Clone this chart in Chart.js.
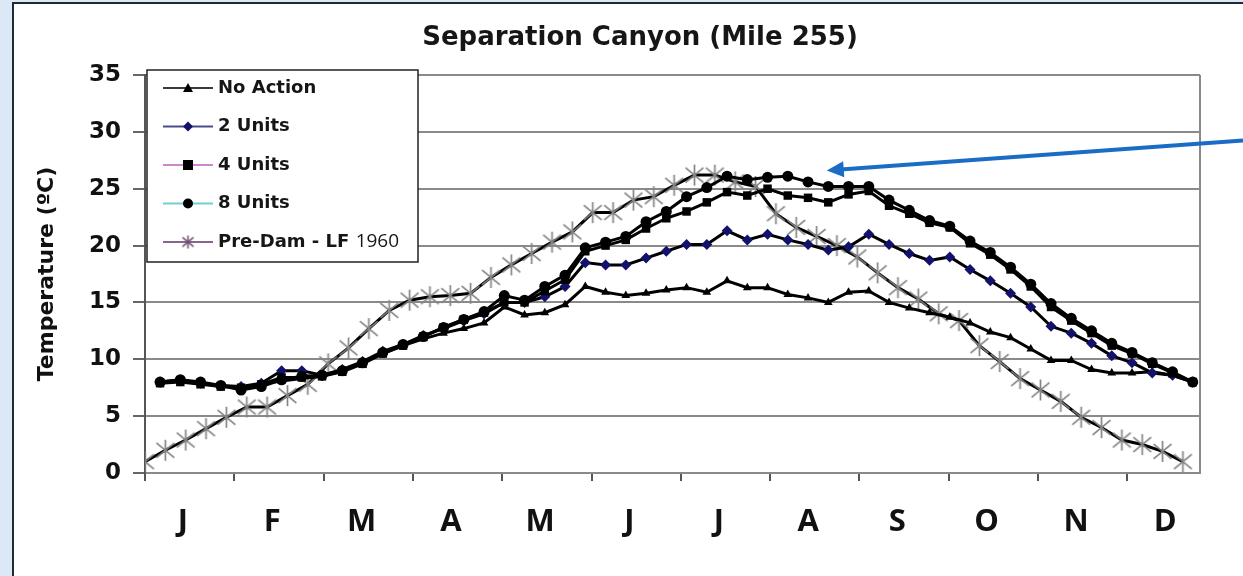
<!DOCTYPE html>
<html>
<head>
<meta charset="utf-8">
<title>Separation Canyon (Mile 255)</title>
<script src="https://cdn.jsdelivr.net/npm/chart.js@4.4.1/dist/chart.umd.min.js"></script>
<style>
  html, body { margin: 0; padding: 0; }
  body { width: 1243px; height: 576px; background: #dbe9f6; position: relative; overflow: hidden; }
  #panel { position: absolute; left: 12px; top: 2px; right: 0; bottom: 0; background: #fff;
           border-left: 2px solid #1e2a36; border-top: 2px solid #1e2a36; }
  #wrap { position: absolute; left: 0; top: 0; width: 1243px; height: 576px; }
</style>
</head>
<body>
<div id="panel"></div>
<div id="wrap"><canvas id="chart" width="1243" height="576"></canvas></div>
<script>
// month labels on the x axis (weekly data, 52 weeks)
const monthLabels = ['J', 'F', 'M', 'A', 'M', 'J', 'J', 'A', 'S', 'O', 'N', 'D'];
const WEEKS_PER_MONTH = 4.388;

// weekly temperatures (deg C)
const noAction = [8.0, 8.2, 7.9, 7.7, 7.5, 7.8, 8.1, 8.3, 8.5, 9.0,
  9.8, 10.5, 11.2, 11.8, 12.3, 12.7, 13.2, 14.6, 13.9, 14.1,
  14.8, 16.4, 15.9, 15.6, 15.8, 16.1, 16.3, 15.9, 16.9, 16.3,
  16.3, 15.7, 15.4, 15.0, 15.9, 16.0, 15.0, 14.5, 14.1, 13.7,
  13.2, 12.4, 11.9, 10.9, 9.9, 9.9, 9.1, 8.8, 8.8, 8.9, 8.6, 8.0];

const twoUnits = [8.0, 8.1, 7.9, 7.7, 7.6, 7.9, 9.0, 9.0, 8.6, 9.1,
  9.8, 10.7, 11.3, 12.1, 12.7, 13.4, 14.0, 15.0, 15.0, 15.5,
  16.4, 18.5, 18.3, 18.3, 18.9, 19.5, 20.1, 20.1, 21.3, 20.5,
  21.0, 20.5, 20.1, 19.6, 19.9, 21.0, 20.1, 19.3, 18.7, 19.0,
  17.9, 16.9, 15.8, 14.6, 12.9, 12.3, 11.4, 10.3, 9.7, 8.8, 8.6, 8.0];

const fourUnits = [7.9, 8.0, 7.8, 7.6, 7.5, 7.8, 8.4, 8.4, 8.5, 8.9,
  9.6, 10.5, 11.2, 12.0, 12.8, 13.5, 14.1, 15.0, 15.0, 16.0,
  17.0, 19.5, 20.0, 20.5, 21.5, 22.4, 23.0, 23.8, 24.7, 24.4,
  25.0, 24.4, 24.2, 23.8, 24.5, 24.8, 23.5, 22.8, 22.0, 21.6,
  20.2, 19.2, 17.9, 16.4, 14.6, 13.4, 12.3, 11.2, 10.5, 9.6, 8.8, 8.0];

const eightUnits = [8.0, 8.2, 8.0, 7.7, 7.3, 7.6, 8.2, 8.5, 8.6, 9.0,
  9.7, 10.6, 11.3, 12.0, 12.8, 13.5, 14.2, 15.6, 15.2, 16.4,
  17.4, 19.8, 20.3, 20.8, 22.1, 23.0, 24.3, 25.1, 26.1, 25.8,
  26.0, 26.1, 25.6, 25.2, 25.2, 25.2, 24.0, 23.1, 22.2, 21.7,
  20.4, 19.4, 18.1, 16.6, 14.9, 13.6, 12.5, 11.4, 10.6, 9.7, 8.9, 8.0];

const preDam1960 = [1.0, 2.0, 2.9, 3.9, 4.9, 5.8, 5.8, 6.8, 7.8, 9.6,
  11.0, 12.7, 14.3, 15.2, 15.5, 15.6, 15.8, 17.2, 18.3, 19.3,
  20.3, 21.2, 22.9, 22.9, 24.0, 24.3, 25.3, 26.2, 26.2, 25.6,
  25.2, 22.8, 21.6, 20.8, 20.0, 19.0, 17.6, 16.3, 15.3, 14.0,
  13.4, 11.2, 9.8, 8.3, 7.3, 6.3, 4.9, 4.0, 2.9, 2.5, 1.9, 1.0];

// x positions in weeks (model runs sit slightly later in each week)
const preDamWeeks = preDam1960.map((_, i) => i);
const modelWeeks = noAction.map((_, i) => 0.74 + i * 0.995);
const monthStarts = monthLabels.map((_, k) => k * WEEKS_PER_MONTH);

const toPoints = (xs, ys) => ys.map((y, i) => ({ x: xs[i], y: y }));

function makeStar(size, color, lw) {
  const c = document.createElement('canvas');
  c.width = size; c.height = size;
  const g = c.getContext('2d');
  const m = size / 2, r = size / 2 - 1;
  g.strokeStyle = color;
  g.lineWidth = lw;
  g.beginPath();
  g.moveTo(m - r * 0.85, m - r * 0.7); g.lineTo(m + r * 0.85, m + r * 0.7);
  g.moveTo(m + r * 0.85, m - r * 0.7); g.lineTo(m - r * 0.85, m + r * 0.7);
  g.moveTo(m, m - r); g.lineTo(m, m + r);
  g.stroke();
  return c;
}
const starBig = makeStar(23, '#858585', 1.7);
const starSmall = makeStar(15, '#6e4f6e', 1.5);

const legendItems = [
  { text: 'No Action', line: '#3a3a3a', marker: 'triangle', fill: '#000' },
  { text: '2 Units', line: '#4a4a8c', marker: 'diamond', fill: '#12126a' },
  { text: '4 Units', line: '#cc88cc', marker: 'square', fill: '#000' },
  { text: '8 Units', line: '#6fd0d0', marker: 'circle', fill: '#000' },
  { text: 'Pre-Dam - LF ', extra: '1960', line: '#8a648a', marker: 'star', fill: '#6e4f6e' }
];

function drawMarker(ctx, kind, x, y, fill) {
  ctx.save();
  ctx.fillStyle = fill;
  ctx.beginPath();
  if (kind === 'triangle') {
    ctx.moveTo(x, y - 5); ctx.lineTo(x + 5, y + 4); ctx.lineTo(x - 5, y + 4); ctx.closePath(); ctx.fill();
  } else if (kind === 'diamond') {
    ctx.moveTo(x, y - 5); ctx.lineTo(x + 5, y); ctx.lineTo(x, y + 5); ctx.lineTo(x - 5, y); ctx.closePath(); ctx.fill();
  } else if (kind === 'square') {
    ctx.fillRect(x - 5, y - 5, 10, 10);
  } else if (kind === 'circle') {
    ctx.arc(x, y, 5, 0, Math.PI * 2); ctx.fill();
  } else if (kind === 'star') {
    ctx.drawImage(starSmall, x - starSmall.width / 2, y - starSmall.height / 2);
  }
  ctx.restore();
}

const decorPlugin = {
  id: 'decor',
  beforeDatasetsDraw(chart) {
    const { ctx, chartArea } = chart;
    ctx.save();
    ctx.strokeStyle = '#8a8a8a';
    ctx.lineWidth = 2;
    ctx.beginPath();
    ctx.moveTo(chartArea.right, chartArea.top);
    ctx.lineTo(chartArea.right, chartArea.bottom);
    ctx.stroke();
    ctx.restore();
  },
  afterDraw(chart) {
    const { ctx, chartArea } = chart;
    const xs = chart.scales.x, ys = chart.scales.y;
    ctx.save();

    // title
    ctx.fillStyle = '#161616';
    ctx.font = 'bold 26px "DejaVu Sans"';
    ctx.textAlign = 'center';
    ctx.textBaseline = 'middle';
    ctx.fillText('Separation Canyon (Mile 255)', 640, 38);

    // legend box
    const bx = chartArea.left + 2, by = chartArea.top - 5, bw = 271, bh = 192;
    ctx.fillStyle = '#fff';
    ctx.fillRect(bx, by, bw, bh);
    ctx.strokeStyle = '#222';
    ctx.lineWidth = 1.5;
    ctx.strokeRect(bx, by, bw, bh);
    legendItems.forEach((it, k) => {
      const y = by + 18 + k * 38.5;
      ctx.strokeStyle = it.line;
      ctx.lineWidth = 2;
      ctx.beginPath();
      ctx.moveTo(bx + 16, y);
      ctx.lineTo(bx + 66, y);
      ctx.stroke();
      drawMarker(ctx, it.marker, bx + 41, y, it.fill);
      ctx.fillStyle = '#161616';
      ctx.font = 'bold 18px "DejaVu Sans"';
      ctx.textAlign = 'left';
      ctx.textBaseline = 'middle';
      ctx.fillText(it.text, bx + 71, y);
      if (it.extra) {
        const w = ctx.measureText(it.text).width;
        ctx.font = '19px "Open Sans"';
        ctx.fillText(it.extra, bx + 71 + w, y);
      }
    });

    // blue arrow pointing at the 8 Units summer peak
    const tipX = xs.getPixelForValue(33.5), tipY = ys.getPixelForValue(26.6);
    const tailX = chart.width, tailY = tipY - 30;
    const ang = Math.atan2(tailY - tipY, tailX - tipX);
    ctx.strokeStyle = '#1b6cc4';
    ctx.fillStyle = '#1b6cc4';
    ctx.lineWidth = 4;
    ctx.beginPath();
    ctx.moveTo(tailX, tailY);
    ctx.lineTo(tipX + 14 * Math.cos(ang), tipY + 14 * Math.sin(ang));
    ctx.stroke();
    ctx.beginPath();
    ctx.moveTo(tipX, tipY);
    ctx.lineTo(tipX + 17 * Math.cos(ang) - 8 * Math.sin(ang), tipY + 17 * Math.sin(ang) + 8 * Math.cos(ang));
    ctx.lineTo(tipX + 17 * Math.cos(ang) + 8 * Math.sin(ang), tipY + 17 * Math.sin(ang) - 8 * Math.cos(ang));
    ctx.closePath();
    ctx.fill();
    ctx.restore();
  }
};

const base = { borderColor: '#000', borderWidth: 3, tension: 0, fill: false, pointBorderWidth: 0 };

new Chart(document.getElementById('chart').getContext('2d'), {
  type: 'line',
  data: {
    datasets: [
      Object.assign({}, base, {
        label: 'Pre-Dam - LF 1960', data: toPoints(preDamWeeks, preDam1960),
        pointStyle: starBig, order: 5
      }),
      Object.assign({}, base, {
        label: 'No Action', data: toPoints(modelWeeks, noAction),
        pointStyle: 'triangle', pointRadius: 5, pointBackgroundColor: '#000', pointBorderColor: '#000', order: 4
      }),
      Object.assign({}, base, {
        label: '2 Units', data: toPoints(modelWeeks, twoUnits),
        pointStyle: 'rectRot', pointRadius: 5.5, pointBackgroundColor: '#12126a', pointBorderColor: '#12126a', order: 3
      }),
      Object.assign({}, base, {
        label: '4 Units', data: toPoints(modelWeeks, fourUnits),
        pointStyle: 'rect', pointRadius: 6, pointBackgroundColor: '#000', pointBorderColor: '#000', order: 2
      }),
      Object.assign({}, base, {
        label: '8 Units', data: toPoints(modelWeeks, eightUnits),
        pointStyle: 'circle', pointRadius: 5.5, pointBackgroundColor: '#000', pointBorderColor: '#000', order: 1
      })
    ]
  },
  options: {
    responsive: false,
    animation: false,
    layout: { padding: { top: 75, right: 43, bottom: 0, left: 0 } },
    plugins: {
      legend: { display: false },
      title: { display: false },
      tooltip: { enabled: false }
    },
    scales: {
      x: {
        type: 'linear',
        min: 0,
        max: 51.84,
        afterFit: (s) => { s.height = 103; },
        afterBuildTicks: (s) => { s.ticks = monthStarts.map(v => ({ value: v })); },
        grid: { drawOnChartArea: false, drawTicks: true, tickLength: 8, color: '#555', lineWidth: 2 },
        border: { display: true, color: '#8a8a8a', width: 2 },
        ticks: {
          autoSkip: false,
          maxRotation: 0,
          labelOffset: 38,
          padding: 23,
          color: '#111',
          font: { family: '"Open Sans"', weight: 'bold', size: 31 },
          callback: (v, i) => monthLabels[i]
        }
      },
      y: {
        min: 0,
        max: 35,
        afterFit: (s) => { s.width = 145; },
        grid: { color: '#8a8a8a', lineWidth: 2, tickColor: '#666', tickLength: 12 },
        border: { display: true, color: '#555', width: 2 },
        ticks: {
          stepSize: 5,
          padding: 12,
          color: '#111',
          font: { family: '"DejaVu Sans"', weight: 'bold', size: 23 }
        },
        title: {
          display: true,
          text: 'Temperature (ºC)',
          color: '#111',
          padding: { top: 34, bottom: 0 },
          font: { family: '"DejaVu Sans"', weight: 'bold', size: 22 }
        }
      }
    }
  },
  plugins: [decorPlugin]
});
</script>
</body>
</html>
